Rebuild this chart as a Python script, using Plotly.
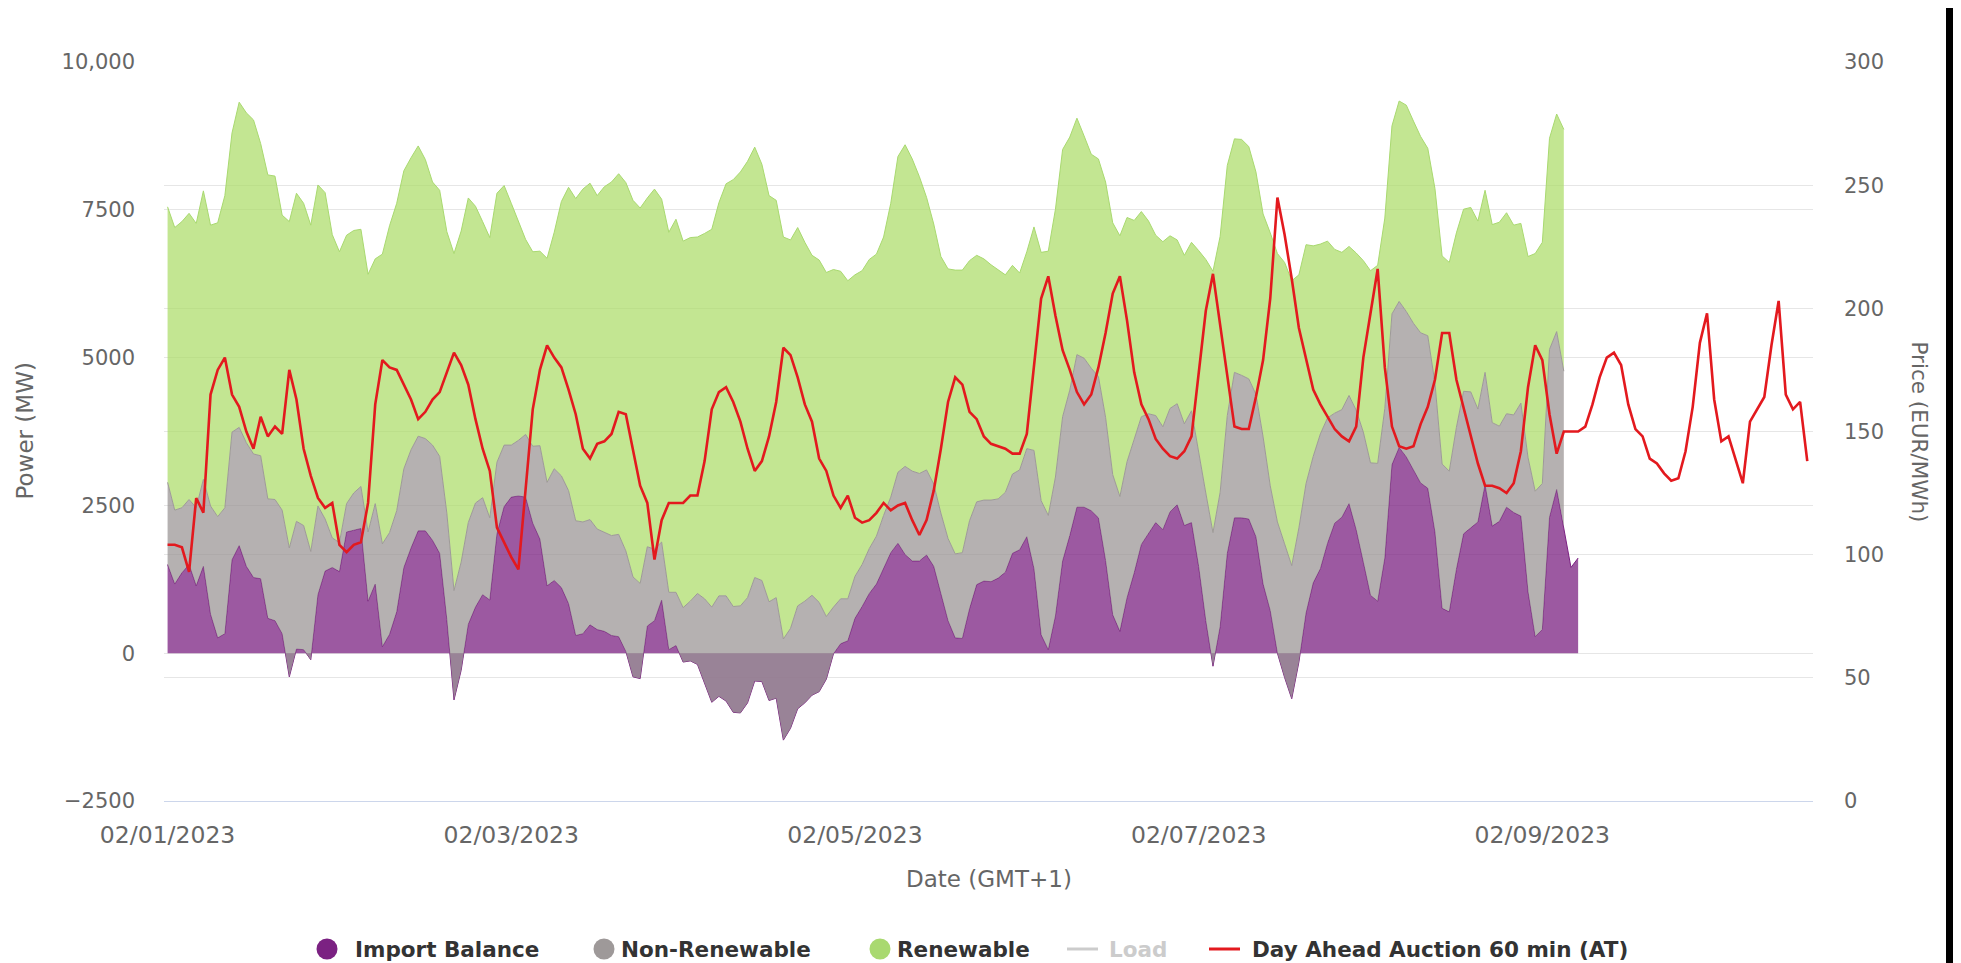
import plotly.graph_objects as go
import pandas as pd

START = "2023-02-01 00:00"

# Hourly values (MW)
import_balance = [
    1500, 1170, 1360, 1500, 1140, 1470, 660, 260, 330, 1580,
    1820, 1470, 1280, 1260, 590, 550, 330, -400, 70, 60,
    -110, 990, 1390, 1450, 1380, 2050, 2080, 2110, 880, 1170,
    110, 320, 700, 1450, 1780, 2070, 2070, 1910, 1690, 570,
    -790, -290, 490, 780, 990, 900, 2020, 2480, 2640, 2660,
    2640, 2200, 1930, 1140, 1230, 1110, 840, 300, 330, 480,
    400, 370, 300, 280, 30, -400, -430, 460, 550, 900,
    60, 130, -150, -130, -190, -500, -830, -730, -810, -1000,
    -1010, -840, -470, -480, -800, -760, -1470, -1270, -940, -840,
    -710, -650, -440, -10, 160, 210, 590, 790, 1010, 1170,
    1450, 1700, 1860, 1670, 1560, 1560, 1660, 1470, 1010, 550,
    260, 250, 750, 1160, 1220, 1210, 1270, 1370, 1690, 1750,
    1970, 1430, 310, 60, 630, 1560, 1990, 2470, 2470, 2410,
    2290, 1570, 650, 370, 940, 1360, 1840, 2030, 2210, 2090,
    2390, 2510, 2160, 2210, 1470, 550, -220, 450, 1690, 2290,
    2290, 2270, 1970, 1170, 720, 0, -410, -770, -150, 680,
    1190, 1430, 1860, 2200, 2300, 2530, 2090, 1540, 980, 880,
    1610, 3190, 3480, 3320, 3110, 2880, 2790, 2050, 760, 700,
    1420, 2020, 2120, 2220, 2850, 2150, 2230, 2470, 2380, 2320,
    1040, 280, 400, 2300, 2770, 2130, 1450, 1610,
]

non_renewable = [
    1390, 1250, 1100, 1100, 1320, 1470, 1830, 2050, 2130, 2160,
    2000, 2090, 2090, 2080, 2020, 2050, 2090, 2180, 2160, 2100,
    1830, 1500, 880, 500, 490, 480, 630, 710, 1170, 1360,
    1740, 1720, 1710, 1670, 1660, 1600, 1560, 1610, 1640, 1800,
    1850, 1830, 1720, 1760, 1640, 1390, 1210, 1040, 880, 940,
    1060, 1300, 1580, 1750, 1890, 1890, 1910, 1940, 1890, 1780,
    1700, 1670, 1690, 1730, 1700, 1690, 1610, 1340, 1210, 980,
    970, 900, 920, 1010, 1200, 1420, 1610, 1700, 1780, 1790,
    1810, 1780, 1750, 1710, 1670, 1700, 1710, 1690, 1740, 1720,
    1690, 1510, 1060, 790, 760, 710, 710, 710, 760, 810,
    880, 940, 1200, 1490, 1520, 1480, 1440, 1390, 1360, 1390,
    1420, 1450, 1490, 1400, 1370, 1380, 1340, 1350, 1340, 1350,
    1490, 2000, 2270, 2270, 2350, 2440, 2460, 2580, 2520, 2410,
    2390, 2420, 2370, 2280, 2300, 2260, 2160, 2020, 1810, 1740,
    1750, 1710, 1720, 1890, 1910, 2160, 2260, 2270, 2330, 2460,
    2410, 2370, 2410, 2490, 2110, 2220, 2260, 2250, 2270, 2190,
    2140, 2280, 2120, 1860, 1820, 1830, 2020, 2200, 2240, 2330,
    2530, 2550, 2470, 2460, 2470, 2540, 2580, 2520, 2440, 2380,
    2400, 2410, 2300, 1910, 1900, 1750, 1610, 1580, 1650, 1910,
    2270, 2460, 2470, 2840, 2670, 2640,
]

renewable = [
    4660, 4780, 4840, 4840, 4810, 4880, 4750, 4970, 5280, 5060,
    5500, 5580, 5650, 5280, 5480, 5470, 4990, 5520, 5550, 5450,
    5520, 5430, 5520, 5130, 4920, 4540, 4440, 4350, 4360, 4140,
    4900, 5190, 5200, 5040, 4940, 4910, 4720, 4450, 4500, 4760,
    5700, 5600, 5490, 5020, 4670, 4740, 4550, 4390, 4090, 3700,
    3300, 3290, 3290, 3790, 4000, 4640, 5130, 5450, 5630, 5690,
    5640, 5850, 5980, 6100, 6230, 6370, 6350, 5900, 6090, 5800,
    6090, 6310, 6200, 6150, 6030, 6180, 6390, 6650, 6970, 7220,
    7340, 7380, 7280, 7040, 6870, 6720, 6800, 6570, 6400, 6070,
    5750, 5790, 5820, 5710, 5540, 5380, 5100, 4970, 4890, 4770,
    4710, 4970, 5340, 5440, 5280, 5020, 4610, 4400, 4340, 4560,
    4800, 4780, 4400, 4170, 4080, 3980, 3880, 3680, 3530, 3330,
    3330, 3780, 4200, 4470, 4530, 4520, 4280, 4000, 3760, 3620,
    3680, 3980, 4260, 4410, 4130, 3700, 3470, 3260, 3050, 3130,
    2920, 2770, 2850, 2850, 3430, 3950, 4420, 4330, 4230, 3950,
    3990, 3930, 3760, 3770, 4280, 4540, 4760, 4820, 4280, 4040,
    3560, 3210, 2990, 2770, 2660, 2520, 2660, 2900, 3250, 3350,
    3220, 3180, 3390, 3490, 3420, 3320, 3170, 3290, 3520, 3530,
    3290, 3080, 3120, 3180, 3080, 3350, 3450, 3400, 3210, 3040,
    3400, 4020, 4080, 3570, 3680, 4090,
]

# Day-ahead price (EUR/MWh), hourly
price = [
    104, 104, 103, 93, 123, 117, 165, 175, 180, 165,
    160, 150, 143, 156, 148, 152, 149, 175, 163, 143,
    132, 123, 119, 121, 104, 101, 104, 105, 121, 161,
    179, 176, 175, 169, 163, 155, 158, 163, 166, 174,
    182, 177, 169, 155, 143, 134, 111, 105, 99, 94,
    128, 159, 175, 185, 180, 176, 167, 157, 143, 139,
    145, 146, 149, 158, 157, 142, 128, 121, 98, 114,
    121, 121, 121, 124, 124, 138, 159, 166, 168, 162,
    154, 143, 134, 138, 148, 162, 184, 181, 172, 161,
    154, 139, 134, 124, 119, 124, 115, 113, 114, 117,
    121, 118, 120, 121, 114, 108, 114, 126, 143, 162,
    172, 169, 158, 155, 148, 145, 144, 143, 141, 141,
    149, 178, 204, 213, 197, 183, 175, 166, 161, 165,
    176, 190, 206, 213, 195, 174, 161, 155, 147, 143,
    140, 139, 142, 148, 173, 199, 214, 193, 171, 152,
    151, 151, 164, 179, 204, 245, 230, 212, 192, 179,
    167, 161, 156, 151, 148, 146, 152, 180, 198, 216,
    176, 152, 144, 143, 144, 153, 160, 171, 190, 190,
    171, 160, 148, 137, 128, 128, 127, 125, 129, 142,
    168, 185, 179, 157, 141, 150, 150, 150, 152, 161,
    172, 180, 182, 177, 161, 151, 148, 139, 137, 133,
    130, 131, 142, 160, 186, 198, 163, 146, 148, 138,
    129, 154, 159, 164, 185, 203, 165, 159, 162, 138,
]

left_ticks = [-2500, 0, 2500, 5000, 7500, 10000]
left_tick_text = ["\u22122500", "0", "2500", "5000", "7500", "10,000"]
right_ticks = [0, 50, 100, 150, 200, 250, 300]
date_ticks = ["2023-02-01", "2023-02-03", "2023-02-05", "2023-02-07", "2023-02-09"]

PURPLE = "#7b2182"
PURPLE_FILL = "rgba(123,33,130,0.75)"
GREY = "#9e9999"
GREY_FILL = "rgba(152,147,147,0.72)"
GREEN = "#a9d970"
GREEN_FILL = "rgba(172,220,104,0.72)"
RED = "#e3191e"

times = pd.date_range(START, periods=len(price), freq="h")
t_imp = times[:len(import_balance)]
t_gen = times[:len(non_renewable)]

base = import_balance[:len(non_renewable)]
mid = [a + b for a, b in zip(base, non_renewable)]
top = [m + r for m, r in zip(mid, renewable)]
load = top

fig = go.Figure()
fig.add_trace(go.Scatter(x=t_imp, y=import_balance, name="Import Balance", mode="lines",
                         line=dict(color=PURPLE, width=1), fill="tozeroy",
                         fillcolor=PURPLE_FILL))
fig.add_trace(go.Scatter(x=t_gen, y=base, mode="lines", line=dict(width=0),
                         hoverinfo="skip"))
fig.add_trace(go.Scatter(x=t_gen, y=mid, name="Non-Renewable", mode="lines",
                         line=dict(color=GREY, width=1), fill="tonexty",
                         fillcolor=GREY_FILL))
fig.add_trace(go.Scatter(x=t_gen, y=top, name="Renewable", mode="lines",
                         line=dict(color=GREEN, width=1), fill="tonexty",
                         fillcolor=GREEN_FILL))
fig.add_trace(go.Scatter(x=t_gen, y=load, name="Load", mode="lines",
                         line=dict(color="#999999", width=2), visible="legendonly"))
fig.add_trace(go.Scatter(x=times, y=price, name="Day Ahead Auction 60 min (AT)", mode="lines",
                         line=dict(color=RED, width=2.6), yaxis="y2"))

t0 = pd.Timestamp(START)
x_range = [t0 - pd.Timedelta(minutes=30), t0 + pd.Timedelta(hours=229.8)]

# plot area in pixels (window coords): x 164..1813, y 62..801
PW, PH = 1649.0, 739.0
def px(x):
    return (x - 164) / PW
def py(y):
    return (801 - y) / PH

LEG_Y = 949
shapes = []
annotations = []
# legend: circles
for cx, col in [(327, PURPLE), (604, GREY), (880, GREEN)]:
    shapes.append(dict(type="circle", xref="paper", yref="paper",
                       x0=px(cx - 10.5), x1=px(cx + 10.5), y0=py(LEG_Y + 10.5), y1=py(LEG_Y - 10.5),
                       fillcolor=col, line=dict(width=0), layer="above"))
# legend: line symbols
shapes.append(dict(type="line", xref="paper", yref="paper", x0=px(1067), x1=px(1098),
                   y0=py(LEG_Y), y1=py(LEG_Y), line=dict(color="#cccccc", width=3)))
shapes.append(dict(type="line", xref="paper", yref="paper", x0=px(1209), x1=px(1240),
                   y0=py(LEG_Y), y1=py(LEG_Y), line=dict(color=RED, width=3)))
for tx, label, col in [(353, "Import Balance", "#333333"), (619, "Non-Renewable", "#333333"),
                       (895, "Renewable", "#333333"), (1107, "Load", "#cccccc"),
                       (1250, "Day Ahead Auction 60 min (AT)", "#333333")]:
    annotations.append(dict(text=label, x=px(tx), y=py(LEG_Y), xref="paper", yref="paper",
                            xanchor="left", yanchor="middle", showarrow=False,
                            font=dict(size=21.5, color=col, weight="bold")))

annotations += [
    dict(text="Power (MW)", x=px(24), y=0.5, xref="paper", yref="paper", xanchor="center",
         yanchor="middle", textangle=-90, showarrow=False, font=dict(size=23, color="#666666")),
    dict(text="Price (EUR/MWh)", x=px(1919), y=0.5, xref="paper", yref="paper", xanchor="center",
         yanchor="middle", textangle=90, showarrow=False, font=dict(size=21.5, color="#666666")),
    dict(text="Date (GMT+1)", x=0.5, y=py(879), xref="paper", yref="paper", xanchor="center",
         yanchor="middle", showarrow=False, font=dict(size=23, color="#666666")),
]
# dark strip at the right edge of the reference picture
shapes.append(dict(type="rect", xref="paper", yref="paper", x0=px(1946), x1=px(1975),
                   y0=py(975), y1=py(-15), fillcolor="black", line=dict(width=0), layer="above"))

fig.update_layout(
    width=1961, height=963,
    # the page body adds an 8px offset, compensated here
    margin=dict(l=156, r=156, t=54, b=170, autoexpand=False),
    paper_bgcolor="white", plot_bgcolor="white",
    font=dict(family="DejaVu Sans", size=20, color="#666666"),
    showlegend=False,
    xaxis=dict(type="date", range=x_range, tickvals=date_ticks, tickformat="%m/%d/%Y",
               showgrid=False, zeroline=False, showline=True, linecolor="#ccd6eb",
               linewidth=1, ticks="", ticklabelstandoff=13, automargin=False,
               tickfont=dict(size=23.5, color="#666666")),
    yaxis=dict(range=[-2500, 10000], tickvals=left_ticks, ticktext=left_tick_text,
               gridcolor="#e6e6e6", gridwidth=1, zeroline=False, showline=False, automargin=False,
               ticks="", ticklabelstandoff=28, tickfont=dict(size=21, color="#666666")),
    yaxis2=dict(range=[0, 300], tickvals=right_ticks, overlaying="y", side="right",
                gridcolor="#e6e6e6", gridwidth=1, zeroline=False, showline=False, automargin=False,
                ticks="", ticklabelstandoff=30, tickfont=dict(size=21, color="#666666")),
    annotations=annotations,
    shapes=shapes,
)

fig.write_html("out.html")
